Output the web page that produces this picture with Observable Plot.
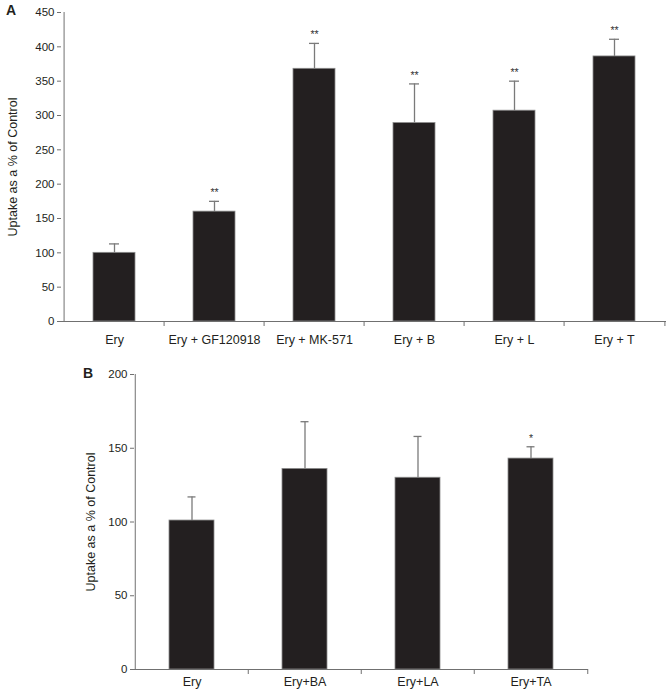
<!DOCTYPE html>
<html>
<head>
<meta charset="utf-8">
<script src="https://cdn.jsdelivr.net/npm/d3@7"></script>
<script src="https://cdn.jsdelivr.net/npm/@observablehq/plot@0.6"></script>
<style>
  body { margin: 0; background: #fff; font-family: "Liberation Sans", Arial, Helvetica, sans-serif; }
  #wrap { position: relative; width: 671px; height: 692px; overflow: hidden; }
  .panel { position: absolute; left: 0; }
  .plabel { position: absolute; font-weight: bold; font-size: 14px; line-height: 14px; color: #231f20; }
</style>
</head>
<body>
<div id="wrap">
  <div class="plabel" style="left:6px;top:3px;">A</div>
  <div class="plabel" style="left:83px;top:366px;">B</div>
  <div id="pa" class="panel" style="top:0px;"></div>
  <div id="pb" class="panel" style="top:360px;"></div>
</div>
<script>
// ---- Panel A data ----
const catsA = ["Ery", "Ery + GF120918", "Ery + MK-571", "Ery + B", "Ery + L", "Ery + T"];
const valsA = [100, 160, 368, 289, 307, 386];
const errA  = [113, 175, 405, 346, 350, 411];
const starsA = ["", "**", "**", "**", "**", "**"];
const ticksA = [0, 50, 100, 150, 200, 250, 300, 350, 400, 450];

// ---- Panel B data ----
const catsB = ["Ery", "Ery+BA", "Ery+LA", "Ery+TA"];
const valsB = [101, 136, 130, 143];
const errB  = [117, 168, 158, 151];
const starsB = ["", "", "", "*"];
const ticksB = [0, 50, 100, 150, 200];

const yLabel = "Uptake as a % of Control";
const FONT = "Liberation Sans, Arial, Helvetica, sans-serif";
const BAR = "#231f20";
const AXIS = "#707070";
const ERR = "#7a7a7a";

function panel({cats, vals, errs, stars, ticks, ymax, width, height, ml, mr, mt, mb, padIn, capInset, xPad, labelDx}) {
  const data = cats.map((c, i) => ({cat: c, v: vals[i], e: errs[i], s: stars[i]}));
  const frameW = width - ml - mr;
  const frameH = height - mt - mb;
  const step = frameW / cats.length;
  return Plot.plot({
    width, height,
    marginLeft: ml, marginRight: mr, marginTop: mt, marginBottom: mb,
    style: {fontFamily: FONT, color: BAR, background: "transparent"},
    x: {type: "band", domain: cats, paddingInner: padIn, paddingOuter: padIn / 2, axis: null},
    y: {domain: [0, ymax], axis: null},
    marks: [
      // error bars (upper only)
      Plot.ruleX(data, {x: "cat", y1: "v", y2: "e", stroke: ERR, strokeWidth: 1.3}),
      Plot.tickY(data, {x: "cat", y: "e", stroke: ERR, strokeWidth: 1.3, insetLeft: capInset, insetRight: capInset}),
      // bars
      Plot.barY(data, {x: "cat", y: "v", fill: BAR, stroke: "#8c8c8c", strokeWidth: 0.8}),
      // significance stars
      Plot.text(data, {x: "cat", y: "e", text: "s", fontSize: 10.5, dy: -8.5, fill: "#333"}),
      // axis lines
      Plot.ruleY([0], {stroke: AXIS, strokeWidth: 1}),
      Plot.ruleX([cats[0]], {x: d => d, dx: -step / 2, stroke: AXIS, strokeWidth: 1}),
      // x ticks at category boundaries
      Plot.ruleX(cats.slice(1), {x: d => d, dx: -step / 2, insetTop: frameH, insetBottom: -5, stroke: AXIS}),
      Plot.ruleX([cats[cats.length - 1]], {x: d => d, dx: step / 2, insetTop: frameH, insetBottom: -5, stroke: AXIS}),
      // y axis ticks & labels
      Plot.axisY({ticks, tickSize: 4, tickPadding: 3, stroke: AXIS, color: BAR, fill: BAR, fontSize: 11.5, label: null}),
      // x axis labels
      Plot.axisX({tickSize: 0, tickPadding: xPad, color: BAR, fill: BAR, fontSize: 12.5, label: null}),
      // y axis title
      Plot.text([yLabel], {frameAnchor: "left", textAnchor: "middle", lineAnchor: "middle", rotate: -90, dx: labelDx, fontSize: 12.5, fill: BAR})
    ]
  });
}

document.getElementById("pa").appendChild(panel({
  cats: catsA, vals: valsA, errs: errA, stars: starsA, ticks: ticksA, ymax: 450,
  width: 671, height: 350, ml: 61, mr: 5, mt: 12, mb: 29, padIn: 0.58, capInset: 16, xPad: 14, labelDx: -49
}));

document.getElementById("pb").appendChild(panel({
  cats: catsB, vals: valsB, errs: errB, stars: starsB, ticks: ticksB, ymax: 200,
  width: 671, height: 332, ml: 134, mr: 83, mt: 14, mb: 23, padIn: 0.6, capInset: 18.5, xPad: 8, labelDx: -44
}));
</script>
</body>
</html>
